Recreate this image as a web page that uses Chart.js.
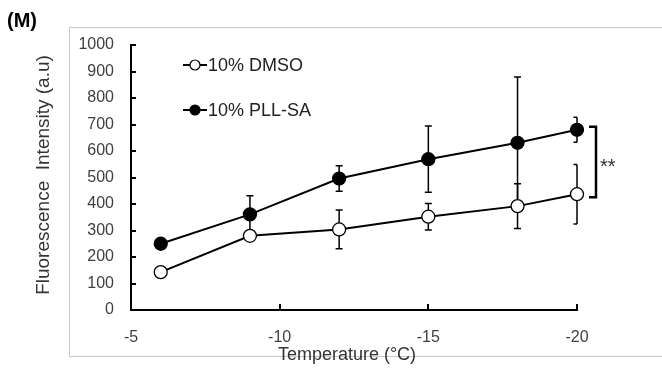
<!DOCTYPE html>
<html>
<head>
<meta charset="utf-8">
<script src="https://cdn.jsdelivr.net/npm/chart.js@4/dist/chart.umd.min.js"></script>
<style>
  html, body { margin: 0; padding: 0; background: #fff; }
  #wrap { position: relative; width: 662px; height: 370px; }
</style>
</head>
<body>
<div id="wrap"><canvas id="chart" width="662" height="370"></canvas></div>
<script>
// Temperatures (°C) and fluorescence values
const temps = [-6, -9, -12, -15, -18, -20];
const dmso = [143, 280, 304, 352, 392, 437];
const dmsoErr = [0, 0, 73, 50, 84, 112];
const pll = [250, 361, 496, 569, 631, 680];
const pllErr = [0, 70, 48, 125, 248, 47];
const xTicks = [-5, -10, -15, -20];
const yTicks = [0, 100, 200, 300, 400, 500, 600, 700, 800, 900, 1000];

const FONT = '"Liberation Sans", Arial, sans-serif';

// error bars, inward ticks, bracket, legend and titles
const decorPlugin = {
    id: 'decor',
    beforeDraw(chart) {
        const ctx = chart.ctx;
        ctx.save();
        ctx.strokeStyle = '#c8c8c8';
        ctx.lineWidth = 1;
        ctx.strokeRect(69.5, 27.5, 700, 329);
        ctx.restore();
    },
    beforeDatasetsDraw(chart) {
        const ctx = chart.ctx;
        const xs = chart.scales.x, ys = chart.scales.y;
        const right = chart.chartArea.right;
        ctx.save();
        ctx.strokeStyle = '#000';
        ctx.lineWidth = 1.5;
        const series = [[dmso, dmsoErr], [pll, pllErr]];
        series.forEach(([vals, errs]) => {
            temps.forEach((t, i) => {
                if (!errs[i]) return;
                const x = xs.getPixelForValue(t);
                const yTop = ys.getPixelForValue(vals[i] + errs[i]);
                const yBot = ys.getPixelForValue(vals[i] - errs[i]);
                const capR = x >= right - 1 ? 0 : 3.5; // caps cut at the plot edge
                ctx.beginPath();
                ctx.moveTo(x, yTop); ctx.lineTo(x, yBot);
                ctx.moveTo(x - 3.5, yTop); ctx.lineTo(x + capR, yTop);
                ctx.moveTo(x - 3.5, yBot); ctx.lineTo(x + capR, yBot);
                ctx.stroke();
            });
        });
        ctx.restore();
    },
    afterDraw(chart) {
        const ctx = chart.ctx;
        const xs = chart.scales.x, ys = chart.scales.y;
        const area = chart.chartArea;
        ctx.save();

        // inward tick marks
        ctx.strokeStyle = '#000';
        ctx.lineWidth = 2;
        ctx.beginPath();
        yTicks.slice(1).forEach(v => {
            const y = Math.round(ys.getPixelForValue(v));
            ctx.moveTo(area.left, y); ctx.lineTo(area.left + 5, y);
        });
        xTicks.slice(1).forEach(v => {
            const x = Math.round(xs.getPixelForValue(v));
            ctx.moveTo(x, area.bottom); ctx.lineTo(x, area.bottom - 6);
        });
        ctx.stroke();

        // significance bracket
        const last = temps.length - 1;
        const bx = xs.getPixelForValue(temps[last]) + 19;
        const by1 = ys.getPixelForValue(pll[last]) - 3;
        const by2 = ys.getPixelForValue(dmso[last]) + 3;
        ctx.lineWidth = 2.5;
        ctx.beginPath();
        ctx.moveTo(bx - 7, by1); ctx.lineTo(bx, by1);
        ctx.lineTo(bx, by2); ctx.lineTo(bx - 7, by2);
        ctx.stroke();
        ctx.fillStyle = '#333';
        ctx.font = '20px ' + FONT;
        ctx.textAlign = 'left';
        ctx.textBaseline = 'middle';
        ctx.fillText('**', bx + 4, (by1 + by2) / 2 + 5);

        // legend
        const legend = [
            { label: '10% DMSO', fill: '#fff', y: 65 },
            { label: '10% PLL-SA', fill: '#000', y: 110 }
        ];
        legend.forEach(item => {
            ctx.strokeStyle = '#000';
            ctx.lineWidth = 2;
            ctx.beginPath();
            ctx.moveTo(183, item.y); ctx.lineTo(207, item.y);
            ctx.stroke();
            ctx.beginPath();
            ctx.arc(195, item.y, 5, 0, Math.PI * 2);
            ctx.fillStyle = item.fill;
            ctx.fill();
            ctx.lineWidth = 1.2;
            ctx.stroke();
            ctx.fillStyle = '#222';
            ctx.font = '18px ' + FONT;
            ctx.textAlign = 'left';
            ctx.textBaseline = 'middle';
            ctx.fillText(item.label, 208, item.y + 1);
        });

        // panel label
        ctx.fillStyle = '#000';
        ctx.font = 'bold 20px ' + FONT;
        ctx.textAlign = 'left';
        ctx.textBaseline = 'middle';
        ctx.fillText('(M)', 7, 21);

        // axis titles
        ctx.fillStyle = '#333';
        ctx.font = '18px ' + FONT;
        ctx.textAlign = 'center';
        ctx.fillText('Temperature (\u00B0C)', 347, 355);

        ctx.save();
        ctx.translate(44, 175);
        ctx.rotate(-Math.PI / 2);
        ctx.font = '19px ' + FONT;
        ctx.fillText('Fluorescence  Intensity (a.u)', 0, 0);
        ctx.restore();

        ctx.restore();
    }
};

new Chart(document.getElementById('chart'), {
    type: 'line',
    data: {
        datasets: [
            {
                label: '10% DMSO',
                data: temps.map((t, i) => ({ x: t, y: dmso[i] })),
                borderColor: '#000',
                borderWidth: 2,
                pointRadius: 6.5,
                pointBackgroundColor: '#fff',
                pointBorderColor: '#000',
                pointBorderWidth: 1.3,
                clip: false
            },
            {
                label: '10% PLL-SA',
                data: temps.map((t, i) => ({ x: t, y: pll[i] })),
                borderColor: '#000',
                borderWidth: 2,
                pointRadius: 6.5,
                pointBackgroundColor: '#000',
                pointBorderColor: '#000',
                pointBorderWidth: 1.3,
                clip: false
            }
        ]
    },
    options: {
        responsive: false,
        animation: false,
        devicePixelRatio: 1,
        layout: { padding: { left: 0, top: 45, right: 85, bottom: 0 } },
        plugins: {
            legend: { display: false },
            tooltip: { enabled: false }
        },
        scales: {
            x: {
                type: 'linear',
                reverse: true,
                min: -20,
                max: -5,
                afterBuildTicks: s => { s.ticks = xTicks.map(v => ({ value: v })); },
                afterFit: s => { s.height = 60; },
                grid: { display: false },
                border: { display: true, color: '#000', width: 2 },
                ticks: {
                    color: '#404040',
                    padding: 10,
                    font: { size: 16, family: FONT },
                    callback: v => String(v)
                }
            },
            y: {
                min: 0,
                max: 1000,
                afterBuildTicks: s => { s.ticks = yTicks.map(v => ({ value: v })); },
                afterFit: s => { s.width = 131; },
                grid: { display: false },
                border: { display: true, color: '#000', width: 2 },
                ticks: {
                    color: '#404040',
                    padding: 9,
                    font: { size: 16, family: FONT },
                    callback: v => String(v)
                }
            }
        }
    },
    plugins: [decorPlugin]
});
</script>
</body>
</html>
